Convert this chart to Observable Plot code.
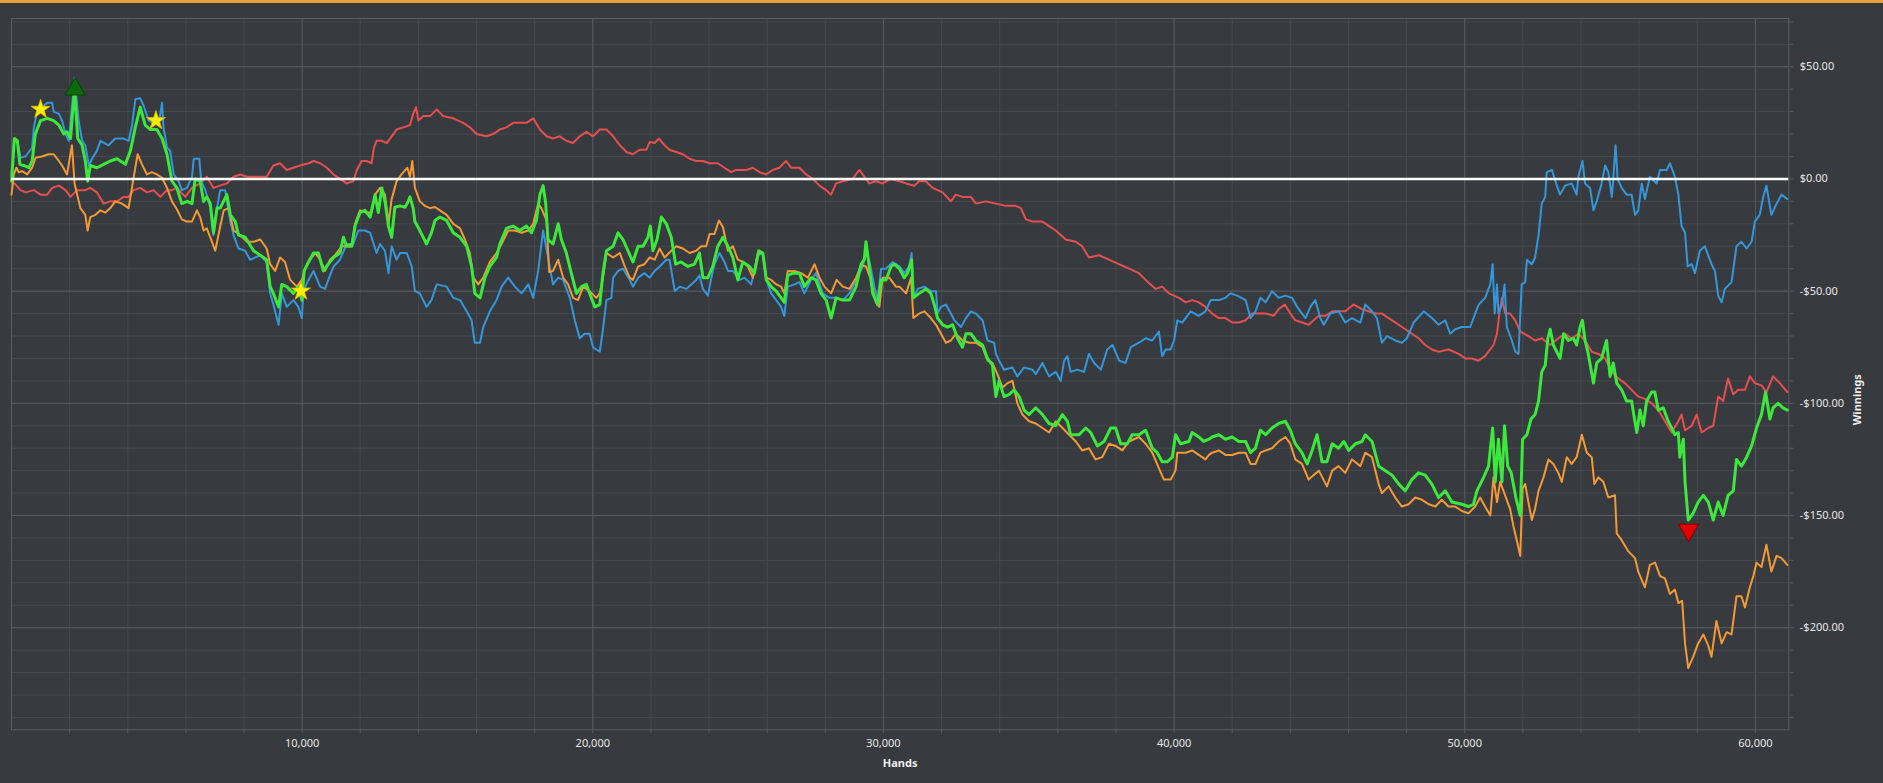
<!DOCTYPE html>
<html>
<head>
<meta charset="utf-8">
<script src="https://cdn.jsdelivr.net/npm/d3@7"></script>
<script src="https://cdn.jsdelivr.net/npm/@observablehq/plot@0.6"></script>
<style>
  html, body { margin: 0; padding: 0; background: #373a3e; overflow: hidden; }
  #topbar { height: 3px; background: #e8a23c; }
  #chart svg { display: block; }
</style>
</head>
<body>
<div id="topbar"></div>
<div id="chart"></div>
<script>
// ---- data: [hands, winnings $] ----
const blue = [[0,2],[100,18],[200,17],[310,9.5],[480,10],[710,14],[770,23],[880,30],[1230,34],[1400,34],[1450,30],[1630,29],[1740,26],[1860,20],[1970,17],[2080,32],[2170,45],[2310,26],[2430,17],[2540,15],[2660,6],[2770,9],[2940,12.5],[3060,17],[3340,15],[3570,18],[3860,18],[4030,17],[4150,24],[4260,35.5],[4430,36],[4550,32.5],[4720,26],[4890,25],[5060,24],[5180,34],[5230,23],[5350,14],[5460,12.5],[5580,2],[5750,-1],[5860,-5],[6040,-4],[6210,1],[6270,9],[6460,9],[6530,-1],[6670,-5],[6840,-13],[6950,-25],[7070,-13],[7180,-5],[7350,-5],[7530,-19],[7640,-25],[7810,-31],[8040,-32],[8210,-36],[8560,-34],[8780,-37],[8900,-51],[9010,-56],[9190,-65],[9300,-51],[9470,-57],[9700,-54],[9870,-57],[9990,-62],[10040,-50],[10220,-45],
[10390,-41],[10620,-48],[10790,-49],[10900,-45],[11080,-39],[11300,-36],[11530,-29],[11760,-29],[11930,-23],[12160,-23],[12340,-24],[12560,-33],[12680,-29],[12850,-32],[12970,-42],[13080,-30],[13250,-36],[13370,-33],[13600,-33],[13770,-39],[13880,-50],[14050,-51],[14280,-57],[14450,-54],[14630,-47],[14970,-48],[15200,-53],[15430,-54],[15660,-59],[15830,-63],[15940,-73],[16120,-73],[16230,-66],[16460,-59],[16690,-54],[16860,-48],[17090,-44],[17320,-48],[17550,-51],[17780,-47],[17950,-53],[18120,-41],[18290,-23],[18460,-35],[18630,-47],[18810,-44],[18980,-45],[19210,-53],[19380,-63],[19550,-71],[19720,-69],[19890,-69],[20010,-75],[20240,-77],
[20350,-67],[20470,-54],[20640,-53],[20700,-44],[20870,-41],[21040,-40],[21270,-45],[21380,-48],[21560,-44],[21780,-42],[21960,-44],[22130,-41],[22300,-39],[22530,-36],[22640,-36],[22820,-50],[22990,-48],[23220,-49],[23390,-47],[23560,-45],[23670,-43],[23790,-49],[23960,-52],[24080,-44],[24190,-38],[24360,-33],[24530,-37],[24650,-41],[24820,-41],[25050,-45],[25220,-44],[25450,-47],[25680,-34],[25850,-33],[25970,-45],[26140,-51],[26310,-54],[26480,-57],[26590,-61],[26710,-48],[26940,-47],[27110,-46],[27280,-51],[27510,-45],[27680,-42],[27910,-51],[28140,-53],[28370,-53],[28600,-54],[28830,-51],[29110,-44],[29290,-39],[29400,-33],[29520,-37],[29690,-48],[29800,-54],[29920,-40],[30090,-40],[30320,-37],
[30550,-39],[30720,-42],[30890,-39],[30970,-33],[31030,-53],[31180,-49],[31410,-48],[31630,-50],[31810,-50],[31860,-60],[31980,-57],[32150,-56],[32320,-60],[32440,-63],[32670,-66],[32840,-62],[33010,-59],[33180,-60],[33410,-63],[33580,-72],[33810,-73],[33870,-78],[33980,-81],[34150,-85],[34440,-84],[34610,-88],[34840,-84],[35130,-85],[35240,-87],[35470,-82],[35700,-88],[35930,-86],[36100,-90],[36220,-81],[36330,-79],[36440,-86],[36670,-85],[36900,-86],[37070,-78],[37250,-82],[37480,-85],[37700,-76],[37880,-74],[38110,-81],[38330,-82],[38510,-75],[38790,-73],[39020,-71],[39250,-72],[39480,-68],[39590,-79],[39710,-76],[39880,-76],[40000,-72],[40110,-63],[40280,-64],[40570,-59],[40850,-61],[41080,-59],
[41260,-54],[41540,-54],[41770,-53],[41940,-51],[42170,-52],[42460,-54],[42630,-62],[42800,-59],[42970,-53],[43150,-55],[43370,-50],[43600,-53],[43830,-52],[44060,-53],[44230,-57],[44520,-62],[44690,-57],[44860,-54],[45030,-62],[45150,-65],[45380,-60],[45660,-59],[45890,-64],[46120,-62],[46410,-64],[46580,-56],[46810,-59],[46980,-62],[47150,-73],[47330,-70],[47610,-72],[47840,-73],[48010,-71],[48240,-64],[48590,-59],[48870,-62],[49100,-65],[49330,-63],[49500,-69],[49670,-67],[49900,-66],[50190,-66],[50360,-60],
[50480,-56],[50700,-53],[50880,-47],[50960,-38],[51030,-60],[51110,-47],[51160,-60],[51280,-56],[51370,-47],[51450,-66],[51620,-72],[51740,-77],[51850,-78],[51960,-47],[52080,-46],[52140,-36],[52310,-38],[52420,-35],[52540,-25],[52650,-11],[52770,-8],[52820,3],[53000,4],[53170,-3],[53280,-7],[53450,-3],[53680,-2],[53850,-7],[53910,1],[54050,8],[54140,-2],[54310,-4],[54430,-14],[54540,-10],[54710,-2],[54830,6],[54940,3],[55060,-8],[55110,0],[55190,15],[55260,0],[55400,-4],[55570,-7],[55740,-7],[55860,-16],[55970,-14],[56090,-2],[56200,-9],[56370,1],[56600,-2],[56720,4],[56950,4],[57060,7],[57230,1],[57350,-7],[57460,-21],[57580,-24],[57670,-39],[57810,-38],[57920,-42],[58090,-32],[58260,-30],[58490,-38],[58610,-41],[58720,-52],[58840,-55],[58950,-49],[59180,-46],[59350,-30],[59520,-28],[59700,-31],[59870,-28],[59980,-19],[60150,-16],[60270,-8],[60380,-3],[60550,-16],[60730,-11],[60900,-7],[61100,-9]];

const red = [[0,-1],[100,-2],[310,-5],[480,-6],[770,-5],[1000,-7],[1230,-7],[1400,-4],[1630,-3],[1860,-5],[2030,-8],[2260,-5],[2540,-5],[2710,-4],[2940,-6],[3170,-11],[3400,-10],[3630,-10],[3860,-8],[4030,-8],[4200,-5],[4430,-4],[4660,-6],[4890,-5],[5120,-8],[5350,-5],[5520,-5],[5690,-4],[5980,-8],[6210,-4],[6490,-2],[6720,1],[6950,-4],[7180,-3],[7410,-2],[7640,1],[7870,2],[8100,1],[8440,1],[8780,1],[9010,6],[9240,7],[9470,4],[9700,5],[9930,6],[10220,7],
[10390,8],[10620,7],[10850,5],[11080,2],[11300,0],[11530,-2],[11760,-1],[11880,4],[12050,8],[12220,8],[12390,7],[12470,14],[12560,17],[12740,17],[12910,16],[13080,19],[13250,22],[13480,23],[13710,24],[13820,29],[13920,32],[14000,26],[14170,28],[14400,28],[14630,31],[14850,28],[15200,27],[15540,25],[15770,23],[16000,20],[16340,19],[16570,20],[16800,22],[17030,23],[17260,25],[17490,25],[17720,25],[17950,27],[18180,22],[18410,19],[18630,18],[18860,19],[19090,17],[19320,16],[19550,19],[19780,21],[20010,19],[20240,22],
[20470,22],[20700,19],[20930,15],[21160,12],[21380,11],[21610,13],[21840,13],[21960,16.5],[22130,16],[22280,18],[22470,15],[22640,13],[22870,12],[23100,11],[23330,9],[23560,8],[23790,8],[24020,7],[24300,7],[24530,5],[24760,3],[24930,4],[25280,4],[25510,5],[25740,3],[25960,2],[26190,4],[26420,5],[26650,8],[26820,5],[27110,5],[27340,2],[27570,0],[27800,-3],[28030,-5],[28200,-7],[28370,-2],[28600,-1],[28940,0],[29170,4],[29340,1],[29510,-2],[29740,-1],[29970,-2],[30260,0],
[30550,-1],[30780,-2],[31060,-3],[31230,-1],[31460,-1],[31690,-4],[32040,-6],[32320,-10],[32490,-7],[32720,-8],[33010,-8],[33180,-11],[33520,-10],[33870,-11],[34210,-12],[34550,-12],[34730,-13],[34900,-18],[35130,-19],[35470,-19],[35700,-21],[35930,-23],[36270,-27],[36620,-28],[36840,-30],[37070,-35],[37420,-34],[37760,-36],[38100,-38],[38450,-40],[38790,-42],[39020,-45],[39370,-49],[39590,-48],[39820,-51],[40170,-53],[40400,-55],[40630,-54],[40850,-55],
[41080,-57],[41310,-60],[41540,-62],[41770,-62],[42000,-64],[42230,-64],[42460,-63],[42690,-60],[42920,-60],[43150,-60],[43430,-61],[43600,-58],[43810,-56],[44000,-60],[44170,-63],[44400,-64],[44630,-65],[44800,-63],[44980,-61],[45210,-61],[45440,-59],[45660,-59],[45890,-59],[46180,-56],[46460,-58],[46690,-59],[46920,-60],[47150,-60],[47380,-62],[47730,-65],[48070,-68],[48410,-71],[48640,-74],[48870,-76],[49100,-77],[49440,-76],[49790,-78],[50020,-80],[50250,-80],[50470,-81],
[50700,-79],[50990,-74],[51110,-69],[51190,-60],[51280,-53],[51390,-60],[51560,-60],[51740,-63],[51910,-68],[52190,-70],[52420,-72],[52650,-71],[52940,-74],[53220,-71],[53450,-69],[53680,-71],[53910,-69],[54140,-72],[54370,-77],[54600,-78],[54830,-80],[55060,-86],[55290,-89],[55510,-91],[55740,-94],[55970,-97],[56200,-98],[56430,-100],[56660,-103],[56890,-108],[57120,-113],[57350,-108],[57460,-105],[57580,-112],[57810,-110],[57980,-105],[58150,-113],[58380,-111],[58550,-110],[58720,-97],[58890,-99],[59060,-89],[59240,-96],[59410,-94],[59640,-94],[59810,-88],[59980,-91],[60210,-92],[60380,-95],[60610,-88],[60840,-91],[61100,-95]];

const green = [[0,-1],[100,18],[200,17],[290,6.5],[420,6],[600,5],[710,8],[820,20],[1000,26],[1230,27],[1450,26],[1630,24],[1800,20],[1910,21],[2030,18],[2170,40],[2280,18],[2430,15],[2540,8],[2620,-1],[2710,6],[2940,5],[3170,6.5],[3400,8],[3630,9],[3920,6.5],[4090,12.5],[4260,23],[4430,32],[4600,24],[4780,22],[5000,22],[5180,18],[5350,11],[5520,-1],[5690,-4],[5860,-11],[6040,-10],[6210,-11],[6320,0],[6490,-1],[6610,-10],[6720,-8],[6840,-11],[6950,-24],[7070,-13],[7180,-13],[7410,-7],[7530,-16],[7700,-19],[7810,-25],[8040,-26],[8330,-32],[8560,-34],[8780,-36],[8900,-48],[9010,-51],[9190,-57],[9300,-47],[9470,-48],[9700,-51],[9870,-48],[9990,-54],[10070,-41],[10220,-37],
[10390,-33],[10560,-33],[10730,-41],[10900,-38],[11080,-35],[11300,-33],[11420,-26],[11530,-30],[11710,-30],[11820,-21],[11990,-15],[12160,-14],[12340,-17],[12510,-7],[12620,-15],[12740,-4],[12850,-10],[12970,-21],[13080,-26],[13190,-12.6],[13370,-12],[13540,-12.6],[13650,-10],[13710,-8],[13820,-13],[13880,-19],[14050,-23],[14280,-29],[14450,-24],[14570,-18.5],[14740,-17],[14970,-18.5],[15200,-24],[15430,-26],[15660,-30],[15830,-39],[15940,-51],[16120,-53],[16290,-44],[16460,-39],[16690,-35],[16800,-29],[17030,-22],[17260,-21],[17490,-23],[17720,-21],[17890,-24],[18060,-18.5],[18180,-7],[18290,-3],[18380,-11],[18460,-27],[18630,-29],[18810,-20],[18920,-27],[19090,-33],[19260,-42],[19440,-51],[19610,-48],[19780,-47],[19890,-51],[20070,-57],[20240,-56],
[20350,-42],[20470,-32],[20700,-30],[20870,-24],[21040,-27],[21210,-32],[21380,-37],[21560,-30],[21730,-30],[21900,-26],[21980,-21],[22070,-32],[22210,-27],[22360,-17],[22530,-20],[22700,-26],[22850,-38],[23040,-37],[23270,-39],[23500,-38],[23670,-33],[23790,-44],[23960,-44],[24130,-39],[24300,-30],[24480,-26],[24650,-30],[24820,-35],[24990,-45],[25160,-37],[25390,-39],[25560,-42],[25710,-32],[25850,-33],[25970,-45],[26140,-48],[26310,-50],[26480,-53],[26590,-55],[26710,-43],[26880,-42],[27110,-42],[27280,-48],[27510,-44],[27680,-45],[27850,-51],[28030,-54],[28200,-62],[28370,-53],[28600,-54],[28830,-54],[29060,-48],[29230,-38],[29340,-36],[29400,-28],[29510,-39],[29630,-51],[29800,-56],[29920,-45],[30090,-45],[30260,-39],[30370,-38],
[30550,-40],[30720,-44],[30830,-42],[30970,-36],[31030,-53],[31230,-51],[31460,-49],[31630,-51],[31750,-56],[31860,-62],[32040,-65],[32210,-66],[32380,-65],[32550,-71],[32720,-75],[32840,-69],[33010,-69],[33180,-72],[33410,-74],[33580,-80],[33750,-83],[33870,-97],[33980,-90],[34150,-97],[34330,-96],[34500,-94],[34670,-97],[34840,-103],[35010,-105],[35240,-102],[35470,-105],[35700,-109],[35930,-110],[36160,-105],[36330,-108],[36440,-114],[36730,-114],[36960,-111],[37130,-113],[37360,-119],[37590,-117],[37820,-111],[37990,-111],[38160,-118],[38390,-118],[38560,-114],[38790,-114],[39020,-112],[39250,-120],[39420,-122],[39590,-126],[39770,-126],[39940,-124],[40050,-114],[40220,-118],[40510,-117],[40620,-113],[40850,-115],[41020,-117],[41200,-116],
[41310,-115],[41540,-114],[41770,-116],[42000,-115],[42230,-117],[42460,-117],[42630,-122],[42800,-120],[42970,-112],[43150,-114],[43370,-111],[43600,-109],[43830,-108],[44000,-112],[44170,-118],[44400,-122],[44580,-127],[44750,-121],[44920,-114],[45090,-126],[45260,-126],[45440,-118],[45660,-120],[45840,-117],[46010,-121],[46240,-118],[46470,-117],[46580,-114],[46810,-117],[47040,-128],[47270,-130],[47500,-132],[47730,-136],[47950,-139],[48180,-134],[48410,-131],[48640,-132],[48870,-136],[49100,-142],[49330,-139],[49560,-144],[49900,-145],[50130,-146],[50300,-145],[50420,-139],
[50650,-133],[50820,-128],[50960,-111],[51050,-135],[51160,-116],[51280,-135],[51370,-110],[51480,-128],[51600,-131],[51760,-142],[51910,-150],[51990,-116],[52140,-114],[52280,-107],[52420,-105],[52540,-99],[52650,-86],[52770,-83],[52860,-71],[52940,-67],[53050,-74],[53280,-80],[53400,-69],[53570,-72],[53740,-71],[53850,-74],[53970,-66],[54050,-63],[54140,-72],[54250,-78],[54430,-91],[54540,-82],[54710,-80],[54880,-72],[55000,-88],[55110,-82],[55230,-91],[55400,-94],[55570,-99],[55740,-99],[55920,-113],[56030,-103],[56140,-110],[56260,-99],[56430,-95],[56540,-95],[56660,-103],[56830,-102],[57000,-108],[57120,-111],[57230,-114],[57350,-113],[57400,-124],[57520,-116],[57580,-135],[57690,-152],[57860,-149],[58030,-144],[58210,-141],[58380,-144],[58550,-152],[58720,-144],[58890,-150],[59060,-141],[59240,-139],[59350,-125],[59520,-128],[59700,-124],[59870,-119],[60040,-111],[60210,-105],[60350,-95],[60500,-107],[60610,-102],[60780,-100],[60950,-102],[61100,-103]];

const orange = [[0,-7],[80,2],[170,5],[250,3],[370,3.5],[540,2],[710,5],[830,9.5],[1050,10],[1280,11],[1450,11],[1630,8],[1740,6],[1910,2],[2080,15],[2170,-2],[2260,-7],[2370,-13],[2540,-16],[2620,-23],[2710,-17],[2890,-16],[3060,-14],[3230,-15],[3400,-13],[3570,-10],[3800,-11],[4030,-13],[4200,0.5],[4340,11],[4490,6.5],[4660,2],[4830,3],[5000,2],[5180,0.5],[5350,-4],[5520,-10],[5690,-13.5],[5860,-18],[6040,-19],[6210,-19],[6380,-14],[6490,-17],[6610,-23],[6720,-22],[6840,-26],[7010,-32],[7120,-25],[7300,-14],[7470,-13],[7640,-23],[7870,-25],[8100,-28],[8330,-28],[8560,-27],[8780,-31],[8900,-38],[9070,-41],[9240,-35],[9410,-37],[9590,-45],[9820,-48],[9990,-45],[10100,-40],[10220,-37],
[10450,-33],[10620,-36],[10790,-41],[10960,-36],[11130,-34],[11360,-30],[11530,-30],[11710,-29],[11820,-20],[11990,-14],[12220,-15],[12390,-15],[12510,-7],[12680,-4],[12850,-7],[12970,-20],[13080,-9],[13250,-1],[13420,2],[13620,5],[13710,1],[13790,8],[13880,-4],[14050,-10],[14220,-12],[14400,-13],[14570,-12.5],[14740,-14],[14970,-16],[15200,-20],[15430,-22],[15600,-27],[15770,-33],[15890,-44],[16060,-47],[16230,-44],[16460,-37],[16690,-33],[16860,-29],[17090,-23],[17320,-23],[17550,-24],[17780,-23],[17950,-20],[18120,-11],[18230,-13],[18410,-18.5],[18500,-41.5],[18630,-41],[18810,-36],[18980,-44],[19150,-47],[19320,-53],[19490,-54],[19670,-48],[19890,-50],[20120,-53],[20240,-51],
[20350,-44],[20470,-33],[20700,-35],[20930,-33],[21100,-39],[21270,-44],[21380,-45],[21560,-39],[21780,-38],[21960,-35],[22130,-36],[22300,-31],[22470,-35],[22700,-32],[22870,-30],[23100,-31],[23330,-33],[23560,-32],[23730,-30],[23900,-30],[24020,-24.5],[24190,-24.5],[24340,-18.5],[24480,-21.5],[24650,-32],[24820,-30],[24990,-36],[25160,-37],[25330,-39],[25510,-44],[25680,-33],[25850,-33],[25970,-44],[26140,-45],[26310,-47],[26480,-48],[26590,-51],[26710,-41],[26940,-41],[27170,-42],[27400,-44],[27630,-38],[27800,-44],[27970,-48],[28200,-51],[28390,-45],[28600,-48],[28830,-49],[29060,-44],[29230,-38.5],[29400,-39],[29570,-45],[29740,-55],[29860,-57],[29970,-44],[30200,-44],[30430,-48],
[30550,-48],[30780,-51],[30950,-44],[31030,-62],[31230,-60],[31410,-59],[31630,-62],[31810,-65],[31980,-69],[32150,-73],[32320,-72],[32490,-69],[32720,-72],[32950,-73],[33180,-73],[33410,-75],[33580,-81],[33750,-82],[33920,-87],[34100,-93],[34270,-91],[34440,-90],[34610,-100],[34780,-105],[35010,-108],[35240,-109],[35470,-111],[35700,-113],[35930,-108],[36160,-111],[36390,-114],[36620,-117],[36840,-121],[37070,-120],[37300,-125],[37530,-124],[37760,-118],[37990,-119],[38220,-121],[38450,-117],[38790,-115],[39020,-118],[39250,-122],[39480,-129],[39650,-134],[39880,-134],[40050,-130],[40110,-122],[40400,-122],[40620,-121],[40850,-123],[41080,-125],[41200,-123],
[41310,-122],[41540,-121],[41770,-123],[42000,-123],[42230,-122],[42460,-122],[42630,-127],[42800,-127],[42970,-122],[43150,-121],[43370,-120],[43600,-117],[43830,-115],[44000,-118],[44170,-125],[44400,-127],[44630,-134],[44800,-132],[44980,-130],[45260,-137],[45440,-130],[45660,-128],[45890,-131],[46120,-125],[46410,-128],[46580,-122],[46810,-124],[47040,-136],[47150,-140],[47380,-137],[47610,-142],[47840,-146],[48070,-145],[48300,-142],[48530,-143],[48760,-145],[48990,-146],[49210,-143],[49440,-146],[49670,-146],[49900,-148],[50130,-149],[50360,-146],[50530,-142],
[50700,-146],[50880,-150],[50990,-133],[51110,-144],[51220,-135],[51390,-141],[51560,-147],[51680,-155],[51790,-161],[51910,-168],[51990,-138],[52080,-136],[52190,-144],[52310,-152],[52420,-147],[52540,-139],[52710,-133],[52880,-125],[53050,-127],[53220,-131],[53340,-135],[53510,-124],[53680,-127],[53850,-124],[54030,-114],[54200,-122],[54370,-124],[54460,-136],[54600,-133],[54770,-135],[54940,-142],[55170,-141],[55230,-158],[55400,-161],[55630,-166],[55860,-169],[55970,-175],[56200,-182],[56370,-172],[56550,-171],[56720,-177],[56890,-178],[57060,-185],[57230,-183],[57350,-189],[57480,-188],[57580,-207],[57690,-218],[57860,-213],[58030,-207],[58210,-203],[58380,-208],[58490,-213],[58660,-197],[58840,-207],[59010,-202],[59180,-203],[59350,-186],[59520,-186],[59640,-191],[59810,-182],[59930,-177],[60040,-171],[60210,-173],[60380,-163],[60550,-175],[60730,-168],[60900,-169],[61100,-172]];

// event markers
const stars = [[1000,31],[4970,26],[9960,-50]];
const peakMarker = [[2190,40]];
const lowMarker = [[57700,-156.5]];

// ticks
const yMinorTicks = d3.range(-240, 71, 10);
const yMajorTicks = [-200, -150, -100, -50, 0, 50];
const xMinorTicks = d3.range(2000, 61001, 2000);
const xMajorTicks = [10000, 20000, 30000, 40000, 50000, 60000];

const seriesList = [
  {name: "red", pts: red, color: "#e5504f", w: 2},
  {name: "blue", pts: blue, color: "#3597da", w: 2},
  {name: "orange", pts: orange, color: "#f39a36", w: 2},
  {name: "green", pts: green, color: "#3ce83c", w: 3}
];

const fmtMoney = v => (v < 0 ? "-" : "") + "$" + Math.abs(v).toFixed(2);
const gridMinor = "#46494d";
const gridMajor = "#575a5e";

const lineMarks = seriesList.map(s =>
  Plot.line(s.pts.map(([h, v]) => ({hands: h, winnings: v})), {
    x: "hands", y: "winnings", stroke: s.color, strokeWidth: s.w, strokeLinejoin: "round"
  })
);

const chart = Plot.plot({
  width: 1883,
  height: 780,
  marginTop: 15,
  marginBottom: 53.7,
  marginLeft: 11,
  marginRight: 94.7,
  x: {domain: [0, 61150], axis: null},
  y: {domain: [-245.5, 71.5], axis: null},
  style: {background: "transparent", color: "#e6e6e6", fontFamily: "'Noto Sans', 'Open Sans', sans-serif", fontSize: "11px"},
  marks: [
    Plot.ruleY(yMinorTicks, {stroke: gridMinor, strokeWidth: 1}),
    Plot.ruleX(xMinorTicks, {stroke: gridMinor, strokeWidth: 1}),
    Plot.ruleY(yMajorTicks, {stroke: gridMajor, strokeWidth: 1}),
    Plot.ruleX(xMajorTicks, {stroke: gridMajor, strokeWidth: 1}),
    Plot.axisY(yMinorTicks, {anchor: "right", tickSize: 4, tickFormat: () => "", stroke: gridMajor, label: null}),
    Plot.axisY(yMajorTicks, {anchor: "right", tickSize: 0, tickPadding: 11, tickFormat: fmtMoney, fill: "#e6e6e6", label: null}),
    Plot.axisX(xMinorTicks, {anchor: "bottom", tickSize: 4, tickFormat: () => "", stroke: gridMajor, label: null}),
    Plot.axisX(xMajorTicks, {anchor: "bottom", tickSize: 0, tickPadding: 9, tickFormat: d3.format(","), fill: "#e6e6e6", label: null}),
    Plot.frame({stroke: "#5c5f63"}),
    ...lineMarks,
    Plot.ruleY([0], {stroke: "#ffffff", strokeWidth: 2.5}),
    Plot.dot(stars, {x: d => d[0], y: d => d[1], symbol: "star", r: 6, fill: "#ffee00", stroke: "#d9b800", strokeWidth: 0.8}),
    Plot.dot(peakMarker, {x: d => d[0], y: d => d[1], symbol: "triangle", r: 7.5, fill: "#0c6a0c", stroke: "#054405", strokeWidth: 1}),
    Plot.dot(lowMarker, {x: d => d[0], y: d => d[1], symbol: "triangle", rotate: 180, r: 7.5, fill: "#e00000", stroke: "#8a0000", strokeWidth: 1}),
    Plot.text(["Hands"], {frameAnchor: "bottom", dy: 37, text: d => d, fill: "#ececec", fontWeight: "bold", fontSize: 11}),
    Plot.text(["Winnings"], {frameAnchor: "right", dx: 69, rotate: -90, text: d => d, fill: "#ececec", fontWeight: "bold", fontSize: 11})
  ]
});
document.getElementById("chart").appendChild(chart);
</script>
</body>
</html>
